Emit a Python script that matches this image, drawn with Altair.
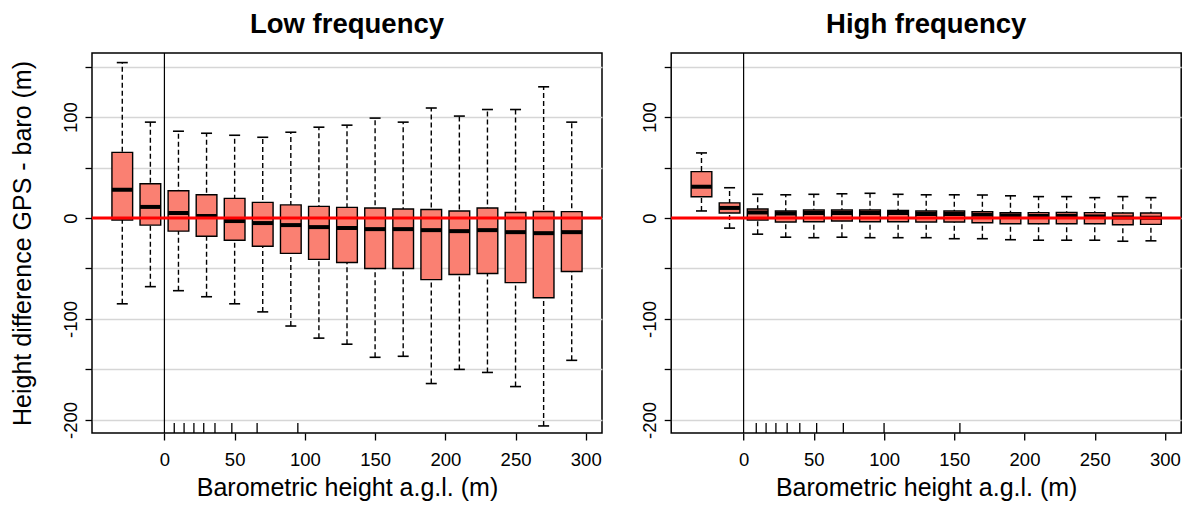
import altair as alt
import pandas as pd

# ---- data ----
bins = [-30, -10, 10, 30, 50, 70, 90, 110, 130, 150, 170, 190, 210, 230, 250, 270, 290]

low_lo  = [-85, -68, -72, -78, -85, -93, -107, -119, -125, -138, -137, -164, -150, -153, -167, -206, -141]
low_q1  = [-2, -7, -13, -18, -22, -28, -35, -41, -44, -50, -50, -61, -56, -55, -64, -79, -53]
low_med = [28, 11, 5, 2, -3, -5, -7, -9, -10, -11, -11, -12, -13, -12, -14, -15, -14]
low_q3  = [65, 34, 27, 23, 19.5, 15.5, 13, 11.5, 10.5, 10, 9, 8.5, 7, 10, 5.5, 6.5, 6.3]
low_hi  = [154, 95, 86, 84, 82, 80, 85, 90, 92, 99, 95, 109, 101, 107.5, 107.5, 130, 95]
low_rug = [7, 14, 21, 28, 36, 48, 66, 95]

high_lo  = [7, -10, -16, -19, -19.5, -19, -19.5, -19.5, -19.5, -20.5, -20.5, -21.5, -22, -22, -22, -23, -22.6]
high_q1  = [21, 5, -2, -4, -3.7, -3, -3.7, -3.7, -4, -4, -4.7, -5.7, -5.7, -5.7, -5.7, -6.6, -6.3]
high_med = [31, 10, 5.5, 4.5, 5, 5, 5, 5, 4, 4, 3.3, 2.6, 2, 2, 1.6, 0.6, 0.3]
high_q3  = [46, 15, 9, 7, 8, 8, 8, 7.5, 7, 7, 6.3, 5.3, 5.3, 5.5, 5.3, 5, 5]
high_hi  = [64.5, 30, 23.5, 23, 23.5, 24, 24.5, 23.5, 23, 23, 22.8, 22, 21.2, 21.2, 20.2, 21.2, 20.2]
high_rug = [9, 16, 23, 31, 40, 52, 71, 100, 154]

x_ticks = [0, 50, 100, 150, 200, 250, 300]
y_ticks = [-200, -150, -100, -50, 0, 50, 100, 150]

FONT = "Liberation Sans"
W, H = 510, 380
BOXW = 20.7


def panel(title, lo, q1, med, q3, hi, rug, show_ytitle):
    df = pd.DataFrame({"bin": bins, "lo": lo, "q1": q1, "med": med, "q3": q3, "hi": hi})
    rdf = pd.DataFrame({"r": rug})
    xs = alt.Scale(domain=[-48, 308], nice=False, zero=False)
    ys = alt.Scale(domain=[-213, 163.5], nice=False, zero=False)
    base = alt.Chart(df)

    yaxis = alt.Axis(
        values=y_ticks, grid=True, gridColor="#d6d6d6", gridWidth=1.5,
        labelExpr="datum.value % 100 == 0 ? toString(datum.value) : ''",
        labelAngle=270, labelAlign="center", labelBaseline="bottom", labelPadding=5,
        title="Height difference GPS - baro (m)" if show_ytitle else "",
        titlePadding=26,
    )
    xaxis = alt.Axis(values=x_ticks, grid=False, labelPadding=10, labelAngle=0,
                     title="Barometric height a.g.l. (m)", titlePadding=7, format="d")

    def X(f):
        return alt.X(f, type="quantitative", scale=xs, axis=xaxis)

    def Y(f):
        return alt.Y(f, type="quantitative", scale=ys, axis=yaxis)

    whisk = base.mark_rule(color="black", strokeWidth=1.4, strokeDash=[5, 3]).encode(
        x=X("bin"), y=Y("lo"), y2="hi:Q",
    )
    vline = alt.Chart(pd.DataFrame({"v": [0]})).mark_rule(color="black", strokeWidth=1.2).encode(
        x=X("v")
    )
    cap_hi = base.mark_tick(orient="horizontal", size=11, thickness=1.6, color="black", opacity=1).encode(
        x=X("bin"), y=Y("hi")
    )
    cap_lo = base.mark_tick(orient="horizontal", size=11, thickness=1.6, color="black", opacity=1).encode(
        x=X("bin"), y=Y("lo")
    )
    box = base.mark_bar(size=BOXW, color="salmon", stroke="black", strokeWidth=1.4, opacity=1).encode(
        x=X("bin"), y=Y("q1"), y2="q3:Q",
    )
    median = base.mark_tick(orient="horizontal", size=BOXW, thickness=4, color="black", opacity=1).encode(
        x=X("bin"), y=Y("med")
    )
    zero = alt.Chart(pd.DataFrame({"z": [0]})).mark_rule(color="#ff0000", strokeWidth=3).encode(
        y=Y("z")
    )
    rugm = alt.Chart(rdf).mark_rule(color="black", strokeWidth=1.3).encode(
        x=X("r"), y=alt.value(H), y2=alt.value(H - 10)
    )
    return alt.layer(whisk, vline, cap_hi, cap_lo, box, median, zero, rugm).properties(
        width=W, height=H,
        title=alt.TitleParams(title, fontSize=27.5, fontWeight="bold", font=FONT, color="black",
                              anchor="middle", baseline="alphabetic", offset=-8),
    )


left = panel("Low frequency", low_lo, low_q1, low_med, low_q3, low_hi, low_rug, True)
right = panel("High frequency", high_lo, high_q1, high_med, high_q3, high_hi, high_rug, False)

chart = alt.hconcat(left, right, spacing=69.2, bounds="flush").properties(
    padding={"left": 1, "top": 2, "right": 0, "bottom": 0}
).configure(
    background="white",
    view=alt.ViewConfig(stroke="black", strokeWidth=1.5),
    axis=alt.AxisConfig(
        domain=False, tickColor="black", tickWidth=1.3, tickSize=7,
        labelFont=FONT, labelFontSize=18.5, labelColor="black",
        titleFont=FONT, titleFontSize=25, titleFontWeight="normal", titleColor="black",
    ),
)

chart.save("out.html", embed_options={"renderer": "svg", "actions": False})
